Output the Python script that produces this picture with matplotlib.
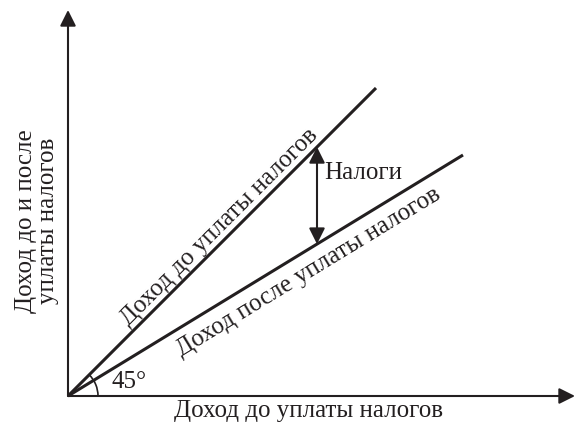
import matplotlib.pyplot as plt
from matplotlib.patches import Arc
import numpy as np

plt.rcParams['font.family'] = ['Liberation Serif', 'DejaVu Serif']

# income before tax (x) and the two lines' end values
x_before = [0, 308]
y_before = [0, 308]
x_after = [0, 395]
y_after = [0, 241]
tax_x = 249

ink = '#231f20'
fs = 18

fig = plt.figure(figsize=(5.75, 4.26), dpi=100)
ax = fig.add_axes([0, 0, 1, 1])
ax.set_xlim(-68, 507)
ax.set_ylim(-30, 396)
ax.axis('off')

# axes with arrows
arr = dict(arrowstyle='-|>', color=ink, lw=1.5, mutation_scale=24, shrinkA=0, shrinkB=0)
ax.annotate('', xy=(507, 0), xytext=(0, 0), arrowprops=arr)
ax.annotate('', xy=(0, 386), xytext=(0, 0), arrowprops=arr)

ax.plot(x_before, y_before, color=ink, lw=2.2, solid_capstyle='butt')
ax.plot(x_after, y_after, color=ink, lw=2.2, solid_capstyle='butt')

slope_after = y_after[1] / x_after[1]
top = tax_x * y_before[1] / x_before[1]
bot = tax_x * slope_after
ax.annotate('', xy=(tax_x, top), xytext=(tax_x, bot),
            arrowprops=dict(arrowstyle='<|-|>', color=ink, lw=1.5, mutation_scale=24, shrinkA=0, shrinkB=0))
ax.text(tax_x + 7, 223, 'Налоги', fontsize=fs, color=ink, ha='left', va='center')

ang = np.degrees(np.arctan(slope_after))
ax.add_patch(Arc((0, 0), 60, 60, theta1=0, theta2=45, color=ink, lw=1.2))
ax.text(44, 14, '45°', fontsize=fs, color=ink, ha='left', va='center')

ax.text(151, 169, 'Доход до уплаты налогов', fontsize=fs, color=ink,
        rotation=45, rotation_mode='anchor', ha='center', va='center')
ax.text(241, 124, 'Доход после уплаты налогов', fontsize=fs, color=ink,
        rotation=ang, rotation_mode='anchor', ha='center', va='center')

ax.text(240, -15, 'Доход до уплаты налогов', fontsize=fs, color=ink, ha='center', va='center')
ax.text(-31, 175, 'Доход до и после\nуплаты налогов', fontsize=fs, color=ink,
        rotation=90, ha='center', va='center', linespacing=1.05)

fig.savefig('out.png', dpi=100)
